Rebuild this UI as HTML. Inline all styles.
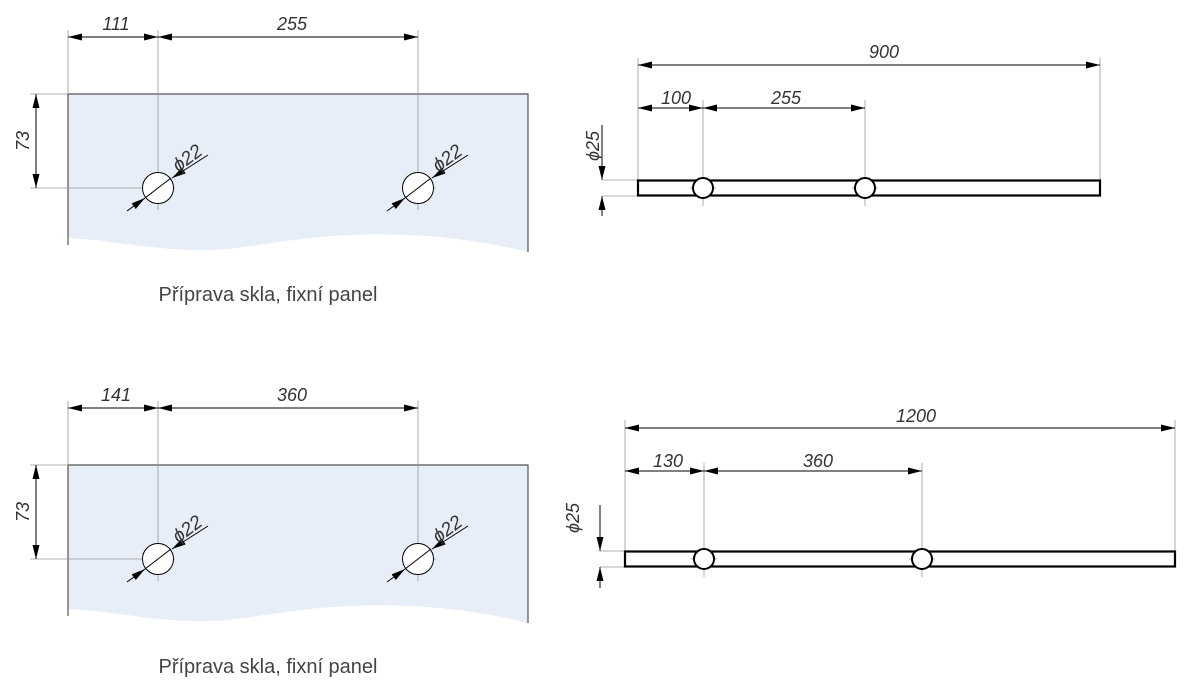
<!DOCTYPE html>
<html><head><meta charset="utf-8"><style>
html,body{margin:0;padding:0;background:#fff;width:1200px;height:697px;overflow:hidden}
svg text{font-family:"Liberation Sans",sans-serif;font-style:italic;fill:#333}
</style></head><body>
<svg width="1200" height="697" viewBox="0 0 1200 697" xmlns="http://www.w3.org/2000/svg">
<defs>
<marker id="a" viewBox="0 0 14 7" refX="14" refY="3.5" markerWidth="14" markerHeight="7" orient="auto-start-reverse" markerUnits="userSpaceOnUse"><path d="M0,0 L14,3.5 L0,7z" fill="#000"/></marker>
</defs>

<!-- ========== TOP LEFT ========== -->
<g>
<path d="M68,94 H528 V252 C480,240 420,232 350,235 C280,238 240,252 190,250 C140,248 110,240 68,238 Z" fill="#e8eef7"/>
<path d="M68,245 V94 H528 V252" fill="none" stroke="#555" stroke-width="1.2"/>
<g stroke="#999" stroke-width="0.8" fill="none">
<line x1="68" y1="30" x2="68" y2="94"/>
<line x1="158" y1="30" x2="158" y2="210"/>
<line x1="418" y1="30" x2="418" y2="210"/>
<line x1="30" y1="94" x2="68" y2="94"/>
<line x1="30" y1="188" x2="175" y2="188"/>
<line x1="402" y1="188" x2="436" y2="188"/>
</g>
<g stroke="#000" stroke-width="1" fill="none">
<line x1="68" y1="37" x2="158" y2="37" marker-start="url(#a)" marker-end="url(#a)"/>
<line x1="158" y1="37" x2="418" y2="37" marker-start="url(#a)" marker-end="url(#a)"/>
<line x1="36" y1="94" x2="36" y2="188" marker-start="url(#a)" marker-end="url(#a)"/>
<circle cx="158" cy="188" r="15.5" fill="#fff"/>
<circle cx="418" cy="188" r="15.5" fill="#fff"/>
<line x1="127" y1="211" x2="145" y2="198" marker-end="url(#a)"/>
<line x1="145" y1="198" x2="171" y2="178"/>
<line x1="208" y1="155" x2="172" y2="178" marker-end="url(#a)"/>
<line x1="387" y1="211" x2="405" y2="198" marker-end="url(#a)"/>
<line x1="405" y1="198" x2="431" y2="178"/>
<line x1="468" y1="155" x2="432" y2="178" marker-end="url(#a)"/>
</g>
<text x="116" y="30" font-size="18" text-anchor="middle">111</text>
<text x="292" y="30" font-size="18" text-anchor="middle">255</text>
<text transform="translate(29,141) rotate(-90)" font-size="18" text-anchor="middle">73</text>
<text transform="translate(191,163) rotate(-37)" font-size="19" text-anchor="middle">ϕ22</text>
<text transform="translate(451,163) rotate(-37)" font-size="19" text-anchor="middle">ϕ22</text>
<text x="268" y="301" font-size="20" text-anchor="middle" style="font-style:normal;fill:#444">Příprava skla, fixní panel</text>
</g>

<!-- ========== BOTTOM LEFT ========== -->
<g transform="translate(0,371)">
<path d="M68,94 H528 V252 C480,240 420,232 350,235 C280,238 240,252 190,250 C140,248 110,240 68,238 Z" fill="#e8eef7"/>
<path d="M68,245 V94 H528 V252" fill="none" stroke="#555" stroke-width="1.2"/>
<g stroke="#999" stroke-width="0.8" fill="none">
<line x1="68" y1="30" x2="68" y2="94"/>
<line x1="158" y1="30" x2="158" y2="210"/>
<line x1="418" y1="30" x2="418" y2="210"/>
<line x1="30" y1="94" x2="68" y2="94"/>
<line x1="30" y1="188" x2="175" y2="188"/>
<line x1="402" y1="188" x2="436" y2="188"/>
</g>
<g stroke="#000" stroke-width="1" fill="none">
<line x1="68" y1="37" x2="158" y2="37" marker-start="url(#a)" marker-end="url(#a)"/>
<line x1="158" y1="37" x2="418" y2="37" marker-start="url(#a)" marker-end="url(#a)"/>
<line x1="36" y1="94" x2="36" y2="188" marker-start="url(#a)" marker-end="url(#a)"/>
<circle cx="158" cy="188" r="15.5" fill="#fff"/>
<circle cx="418" cy="188" r="15.5" fill="#fff"/>
<line x1="127" y1="211" x2="145" y2="198" marker-end="url(#a)"/>
<line x1="145" y1="198" x2="171" y2="178"/>
<line x1="208" y1="155" x2="172" y2="178" marker-end="url(#a)"/>
<line x1="387" y1="211" x2="405" y2="198" marker-end="url(#a)"/>
<line x1="405" y1="198" x2="431" y2="178"/>
<line x1="468" y1="155" x2="432" y2="178" marker-end="url(#a)"/>
</g>
<text x="116" y="30" font-size="18" text-anchor="middle">141</text>
<text x="292" y="30" font-size="18" text-anchor="middle">360</text>
<text transform="translate(29,141) rotate(-90)" font-size="18" text-anchor="middle">73</text>
<text transform="translate(191,163) rotate(-37)" font-size="19" text-anchor="middle">ϕ22</text>
<text transform="translate(451,163) rotate(-37)" font-size="19" text-anchor="middle">ϕ22</text>
<text x="268" y="302" font-size="20" text-anchor="middle" style="font-style:normal;fill:#444">Příprava skla, fixní panel</text>
</g>

<!-- ========== TOP RIGHT ========== -->
<g>
<g stroke="#999" stroke-width="0.8" fill="none">
<line x1="638" y1="58" x2="638" y2="180"/>
<line x1="1100" y1="58" x2="1100" y2="180"/>
<line x1="703" y1="100" x2="703" y2="206"/>
<line x1="865" y1="100" x2="865" y2="206"/>
<line x1="603" y1="180" x2="638" y2="180"/>
<line x1="603" y1="196" x2="638" y2="196"/>
<line x1="690" y1="188" x2="716" y2="188"/>
<line x1="852" y1="188" x2="878" y2="188"/>
</g>
<g stroke="#000" stroke-width="1" fill="none">
<line x1="638" y1="65" x2="1100" y2="65" marker-start="url(#a)" marker-end="url(#a)"/>
<line x1="638" y1="108" x2="703" y2="108" marker-start="url(#a)" marker-end="url(#a)"/>
<line x1="703" y1="108" x2="865" y2="108" marker-start="url(#a)" marker-end="url(#a)"/>
<line x1="602" y1="125" x2="602" y2="180" marker-end="url(#a)"/>
<line x1="602" y1="216" x2="602" y2="196" marker-end="url(#a)"/>
<rect x="638" y="180.5" width="462" height="15" stroke-width="2.2"/>
<circle cx="703" cy="188" r="10" fill="#fff" stroke-width="2"/>
<circle cx="865" cy="188" r="10" fill="#fff" stroke-width="2"/>
</g>
<text x="884" y="58" font-size="18" text-anchor="middle">900</text>
<text x="676" y="104" font-size="18" text-anchor="middle">100</text>
<text x="786" y="104" font-size="18" text-anchor="middle">255</text>
<text transform="translate(599,146) rotate(-90)" font-size="18" text-anchor="middle">ϕ25</text>
</g>

<!-- ========== BOTTOM RIGHT ========== -->
<g>
<g stroke="#999" stroke-width="0.8" fill="none">
<line x1="625" y1="420" x2="625" y2="551"/>
<line x1="1175" y1="420" x2="1175" y2="551"/>
<line x1="704" y1="463" x2="704" y2="577"/>
<line x1="922" y1="463" x2="922" y2="577"/>
<line x1="600" y1="551" x2="625" y2="551"/>
<line x1="600" y1="567" x2="625" y2="567"/>
<line x1="691" y1="559" x2="717" y2="559"/>
<line x1="909" y1="559" x2="935" y2="559"/>
</g>
<g stroke="#000" stroke-width="1" fill="none">
<line x1="625" y1="428" x2="1175" y2="428" marker-start="url(#a)" marker-end="url(#a)"/>
<line x1="625" y1="471" x2="704" y2="471" marker-start="url(#a)" marker-end="url(#a)"/>
<line x1="704" y1="471" x2="922" y2="471" marker-start="url(#a)" marker-end="url(#a)"/>
<line x1="600" y1="505" x2="600" y2="551" marker-end="url(#a)"/>
<line x1="600" y1="588" x2="600" y2="567" marker-end="url(#a)"/>
<rect x="625" y="551.5" width="550" height="15" stroke-width="2.2"/>
<circle cx="704" cy="559" r="10" fill="#fff" stroke-width="2"/>
<circle cx="922" cy="559" r="10" fill="#fff" stroke-width="2"/>
</g>
<text x="916" y="422" font-size="18" text-anchor="middle">1200</text>
<text x="668" y="467" font-size="18" text-anchor="middle">130</text>
<text x="818" y="467" font-size="18" text-anchor="middle">360</text>
<text transform="translate(579,518) rotate(-90)" font-size="18" text-anchor="middle">ϕ25</text>
</g>
</svg>
</body></html>
